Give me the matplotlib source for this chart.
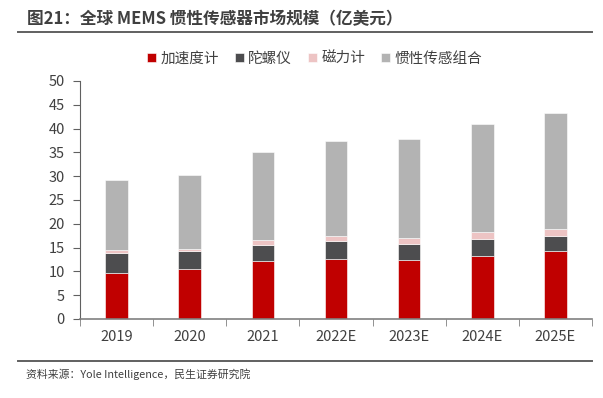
import numpy as np
import matplotlib
matplotlib.use("Agg")
import matplotlib.pyplot as plt
from matplotlib.lines import Line2D

plt.rcParams['font.family'] = ['Noto Sans CJK SC', 'DejaVu Sans']

# data (亿美元)
years = ['2019', '2020', '2021', '2022E', '2023E', '2024E', '2025E']
accel = [9.6, 10.5, 12.1, 12.5, 12.4, 13.3, 14.2]
gyro = [4.2, 3.7, 3.5, 3.8, 3.4, 3.6, 3.3]
magnet = [0.75, 0.5, 0.9, 1.1, 1.2, 1.3, 1.4]
combo = [14.7, 15.5, 18.5, 20.0, 20.8, 22.8, 24.4]
names = ['加速度计', '陀螺仪', '磁力计', '惯性传感组合']
colors = ['#C00000', '#4D4D4F', '#EDC4C4', '#B3B3B3']

fig = plt.figure(figsize=(6.03, 3.98), dpi=100)
ax = fig.add_axes([0.1327, 0.1985, 0.849, 0.598])

x = np.arange(len(years))
bottom = np.zeros(len(years))
for vals, name, c in zip([accel, gyro, magnet, combo], names, colors):
    ax.bar(x, vals, width=0.31, bottom=bottom, color=c, label=name,
           edgecolor='white', linewidth=0.4)
    bottom += np.array(vals)

ax.set_xlim(-0.5, len(years) - 0.5)
ax.set_ylim(0, 50)
ax.set_yticks(range(0, 51, 5))
ax.set_xticks(x)
ax.set_xticklabels(years)
ax.set_xticks(np.arange(-0.5, len(years)), minor=True)
ax.tick_params(axis='x', which='major', length=0, pad=8, labelsize=10.5, labelcolor='#404040')
ax.tick_params(axis='x', which='minor', length=5, direction='out', color='#808080')
ax.tick_params(axis='y', length=5, direction='out', color='#606060', labelsize=10.5,
               labelcolor='#404040', pad=6)
for s in ['top', 'right']:
    ax.spines[s].set_visible(False)
ax.spines['left'].set_color('#606060')
ax.spines['bottom'].set_color('#808080')
ax.spines['bottom'].set_linewidth(1.2)

leg = fig.legend(*ax.get_legend_handles_labels(), loc='center',
                 bbox_to_anchor=(0.522, 0.852), ncol=4, frameon=False,
                 fontsize=10.5, handlelength=0.6, handleheight=0.6, handletextpad=0.3,
                 columnspacing=1.1, labelcolor='#404040')

# title and footer
fig.text(0.045, 0.951, '图21：全球 MEMS 惯性传感器市场规模（亿美元）', fontsize=12,
         fontweight='bold', color='#404040', va='center')
fig.add_artist(Line2D([0.03, 0.982], [0.919, 0.919], color='#606060', lw=1.4))
fig.add_artist(Line2D([0.03, 0.982], [0.093, 0.093], color='#606060', lw=1.4))
fig.text(0.043, 0.06, '资料来源：Yole Intelligence，民生证券研究院', fontsize=7.8,
         color='#404040', va='center')

fig.savefig('out.png', dpi=100)
